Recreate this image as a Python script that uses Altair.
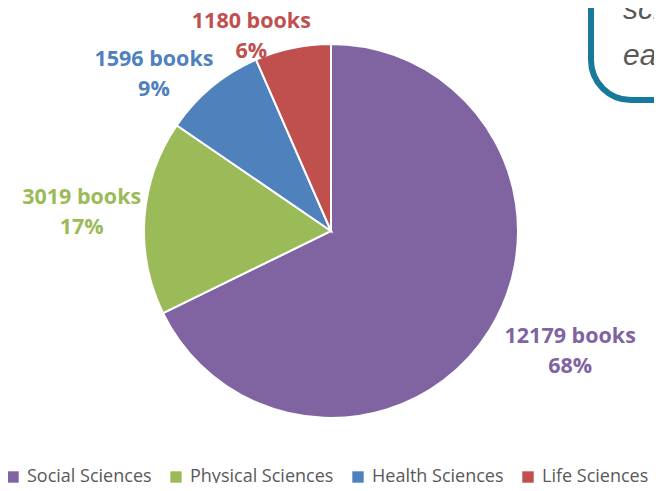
import altair as alt
import pandas as pd

categories = ["Social Sciences", "Physical Sciences", "Health Sciences", "Life Sciences"]
books = [12179, 3019, 1596, 1180]
percents = ["68%", "17%", "9%", "6%"]
colors = ["#8064A2", "#9BBB59", "#4F81BD", "#C0504D"]

df = pd.DataFrame({
    "category": categories,
    "books": books,
    "idx": list(range(len(categories))),
    "label": [f"{b} books\n{p}" for b, p in zip(books, percents)],
})

CX, CY = 323, 223
FONT = "Open Sans"

color = alt.Color("category:N", sort=categories,
                  scale=alt.Scale(domain=categories, range=colors),
                  legend=alt.Legend(title=None, orient="none", direction="horizontal",
                                    legendX=-4, legendY=460, symbolType="square",
                                    symbolSize=130, symbolStrokeWidth=0,
                                    labelFont=FONT, labelFontSize=18, labelColor="#595959",
                                    columnPadding=15, labelOffset=5, labelLimit=300))

base = alt.Chart(df).encode(
    theta=alt.Theta("books:Q", stack=True),
    order=alt.Order("idx:Q"),
    color=color,
)

pie = base.mark_arc(outerRadius=187, stroke="white", strokeWidth=2).encode(
    x=alt.value(CX), y=alt.value(CY))

# per-label placement (radius, theta offset) for each slice
placements = {
    "Social Sciences": (268, -0.09),
    "Physical Sciences": (250, 0.0),
    "Health Sciences": (236, -0.157),
    "Life Sciences": (210, -0.183),
}
layers = [pie]
for cat, (r, toff) in placements.items():
    t = base.transform_calculate(
        txt=f"datum.category == '{cat}' ? datum.label : ''"
    ).mark_text(radius=r, thetaOffset=toff, font=FONT, fontSize=21.5, fontWeight="bold",
                lineBreak="\n", lineHeight=30, align="center", baseline="middle", dy=-15).encode(
        text="txt:N", x=alt.value(CX), y=alt.value(CY))
    layers.append(t)

dummy = pd.DataFrame({"a": [0]})
callout = alt.Chart(dummy).mark_rect(cornerRadius=40, fill="white", stroke="#17799B",
                                     strokeWidth=6).encode(
    x=alt.value(583), x2=alt.value(740), y=alt.value(-80), y2=alt.value(92))
callout_t1 = alt.Chart(dummy).mark_text(align="left", baseline="alphabetic", fontStyle="italic",
                                        font="Liberation Sans", fontSize=30, color="#595959").encode(
    x=alt.value(615), y=alt.value(11), text=alt.value("sci"))
callout_t2 = alt.Chart(dummy).mark_text(align="left", baseline="alphabetic", fontStyle="italic",
                                        font="Liberation Sans", fontSize=30, color="#595959").encode(
    x=alt.value(615), y=alt.value(57), text=alt.value("ea"))
layers += [callout, callout_t1, callout_t2]

chart = alt.layer(*layers).properties(
    width=646, height=475, autosize=alt.AutoSizeParams(type="none"), padding=0
).configure_view(stroke=None)

chart.save("out.html", embed_options={"renderer": "svg", "actions": False})
